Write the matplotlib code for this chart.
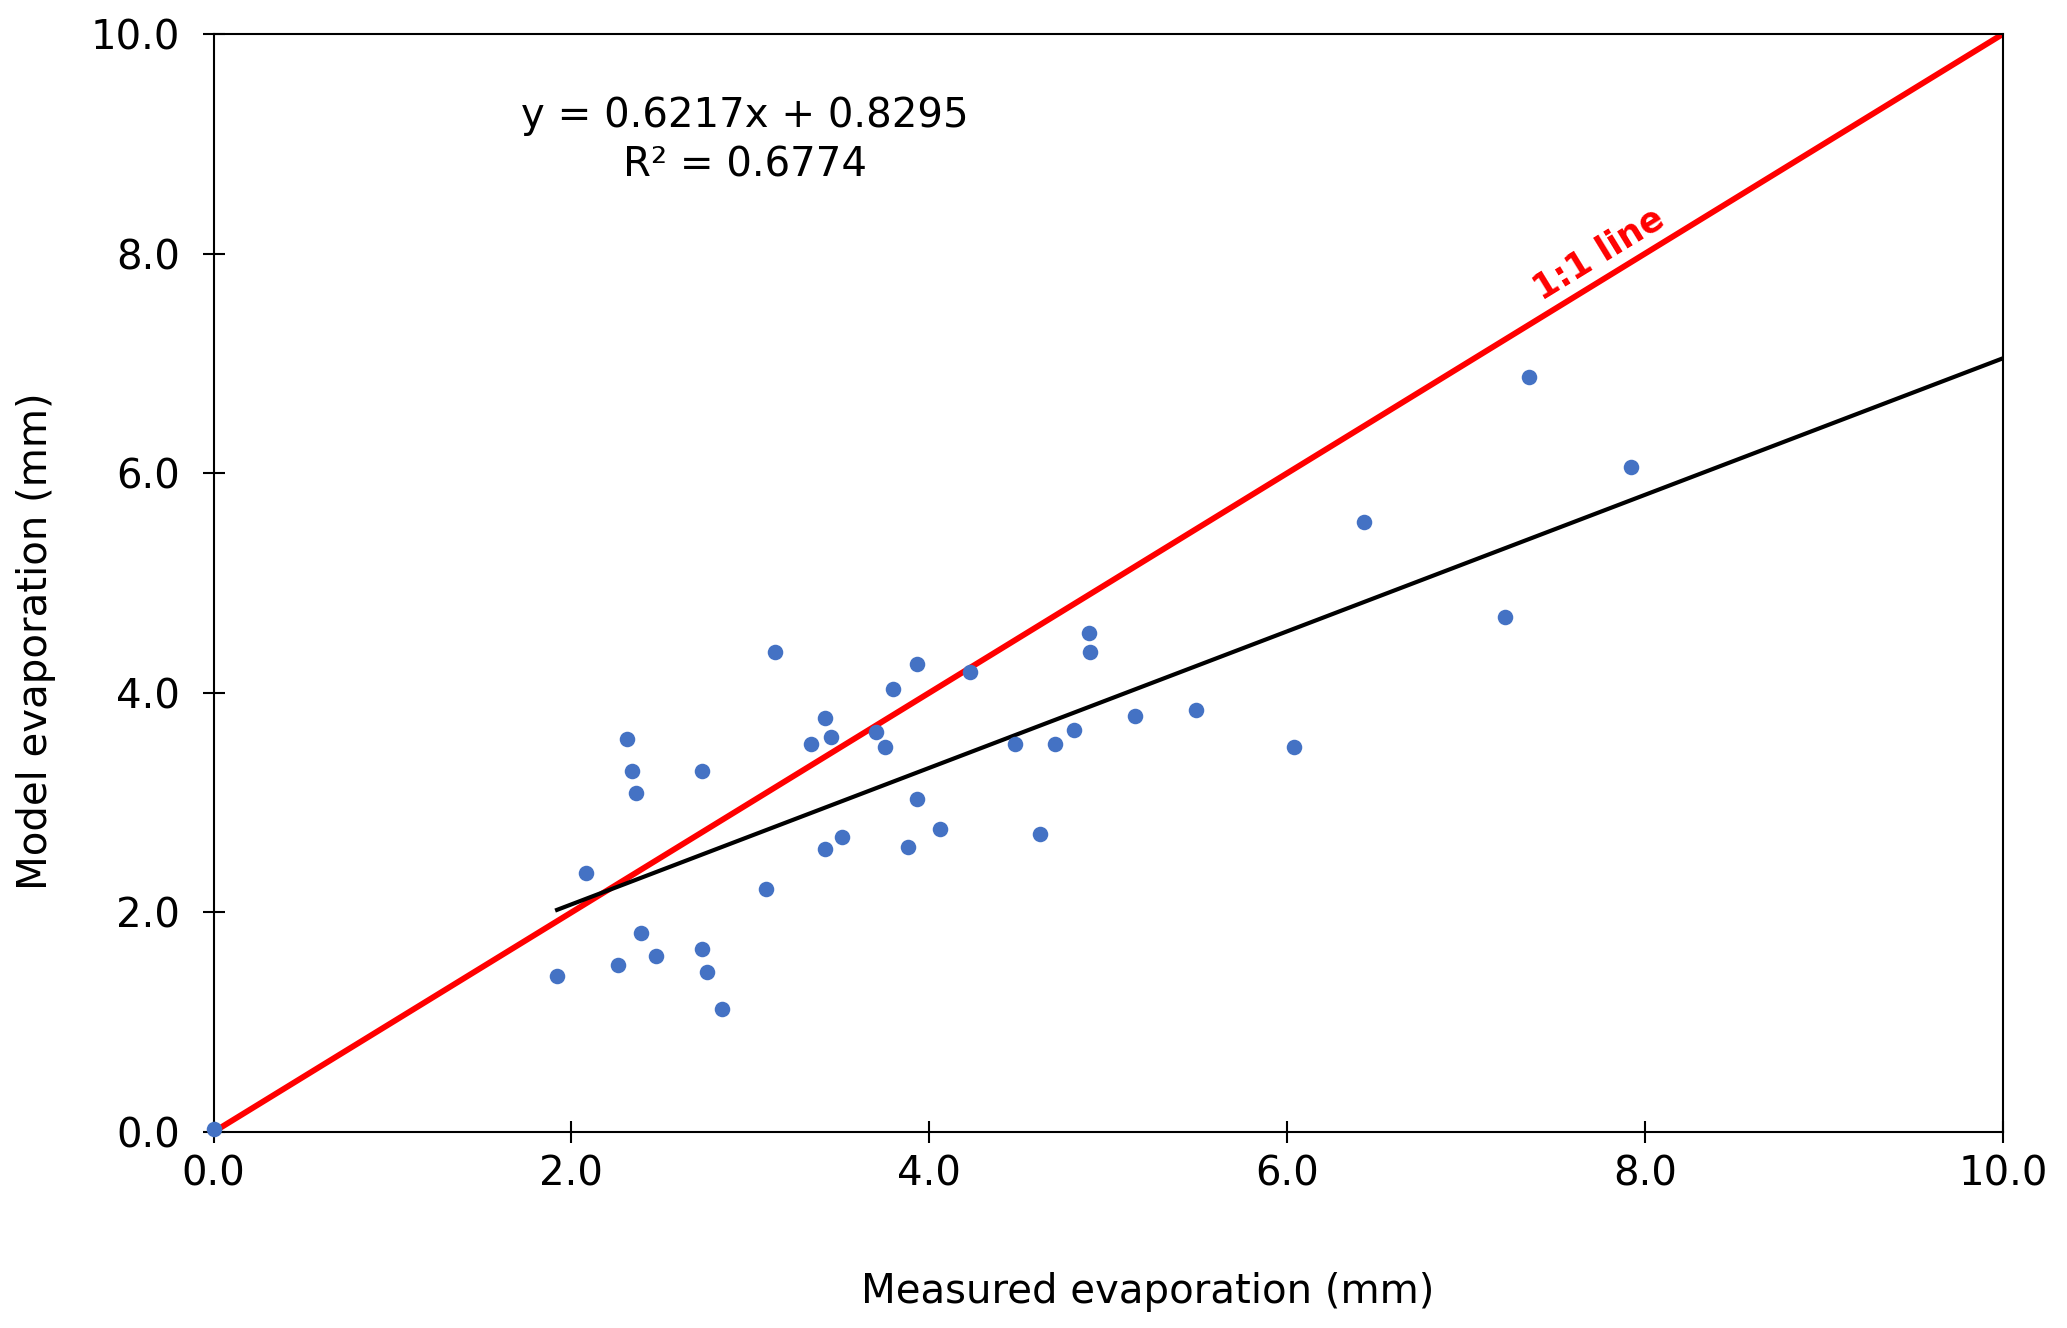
import matplotlib
matplotlib.use('Agg')
import matplotlib.pyplot as plt
import numpy as np

# measured vs model evaporation (mm)
measured = [0.0, 1.92, 2.08, 2.26, 2.31, 2.34, 2.36, 2.39, 2.47, 2.73, 2.76,
            2.73, 2.84, 3.09, 3.14, 3.34, 3.42, 3.45, 3.42, 3.51, 3.70, 3.75,
            3.80, 3.88, 3.93, 3.93, 4.06, 4.23, 4.48, 4.62, 4.70, 4.81, 4.89,
            4.90, 5.15, 5.49, 6.04, 6.43, 7.22, 7.35, 7.92]
model = [0.03, 1.42, 2.36, 1.52, 3.58, 3.29, 3.09, 1.81, 1.60, 1.67, 1.46,
         3.29, 1.12, 2.21, 4.37, 3.53, 3.77, 3.60, 2.58, 2.69, 3.64, 3.51,
         4.03, 2.60, 3.03, 4.26, 2.76, 4.19, 3.53, 2.71, 3.53, 3.66, 4.54,
         4.37, 3.79, 3.84, 3.51, 5.56, 4.69, 6.88, 6.06]

slope = 0.6217
intercept = 0.8295
r2 = 0.6774

ticks = [0, 2, 4, 6, 8, 10]
tick_labels = ['0.0', '2.0', '4.0', '6.0', '8.0', '10.0']

plt.rcParams['font.family'] = 'DejaVu Sans'
fig = plt.figure(figsize=(20.67, 13.28), dpi=100)
ax = fig.add_axes([0.1033, 0.1476, 0.8657, 0.8268])

# 1:1 line
ax.plot([0, 10], [0, 10], color='#ff0000', lw=4.2, zorder=2)
# trendline from smallest non-zero x to the right edge
x0 = min(v for v in measured if v > 0)
xt = np.array([x0, 10])
ax.plot(xt, slope * xt + intercept, color='black', lw=3, zorder=2)

ax.scatter(measured, model, s=125, color='#4472C4', zorder=3, clip_on=False,
           linewidths=0)

ax.set_xlim(0, 10)
ax.set_ylim(0, 10)
ax.set_xticks(ticks)
ax.set_xticklabels(tick_labels)
ax.set_yticks(ticks)
ax.set_yticklabels(tick_labels)
ax.tick_params(direction='inout', length=16, width=1.5, labelsize=29)
ax.tick_params(axis='x', pad=8)
ax.tick_params(axis='y', pad=16)
for s in ax.spines.values():
    s.set_linewidth(1.5)

ax.set_xlabel('Measured evaporation (mm)', fontsize=29, labelpad=56)
ax.set_ylabel('Model evaporation (mm)', fontsize=29, labelpad=25)
# axis titles sit a bit off-centre in the original
ax.xaxis.label.set_x(0.522)
ax.yaxis.label.set_y(0.447)

ax.text(2.97, 9.03, 'y = %.4fx + %.4f\nR² = %.4f' % (slope, intercept, r2),
        fontsize=29, ha='center', va='center', multialignment='center',
        linespacing=1.3)

ax.text(7.74, 8.0, '1:1 line', color='#ff0000', fontsize=25, fontweight='bold',
        ha='center', va='center', rotation=31.5, rotation_mode='anchor')

plt.savefig('out.png', dpi=100)
